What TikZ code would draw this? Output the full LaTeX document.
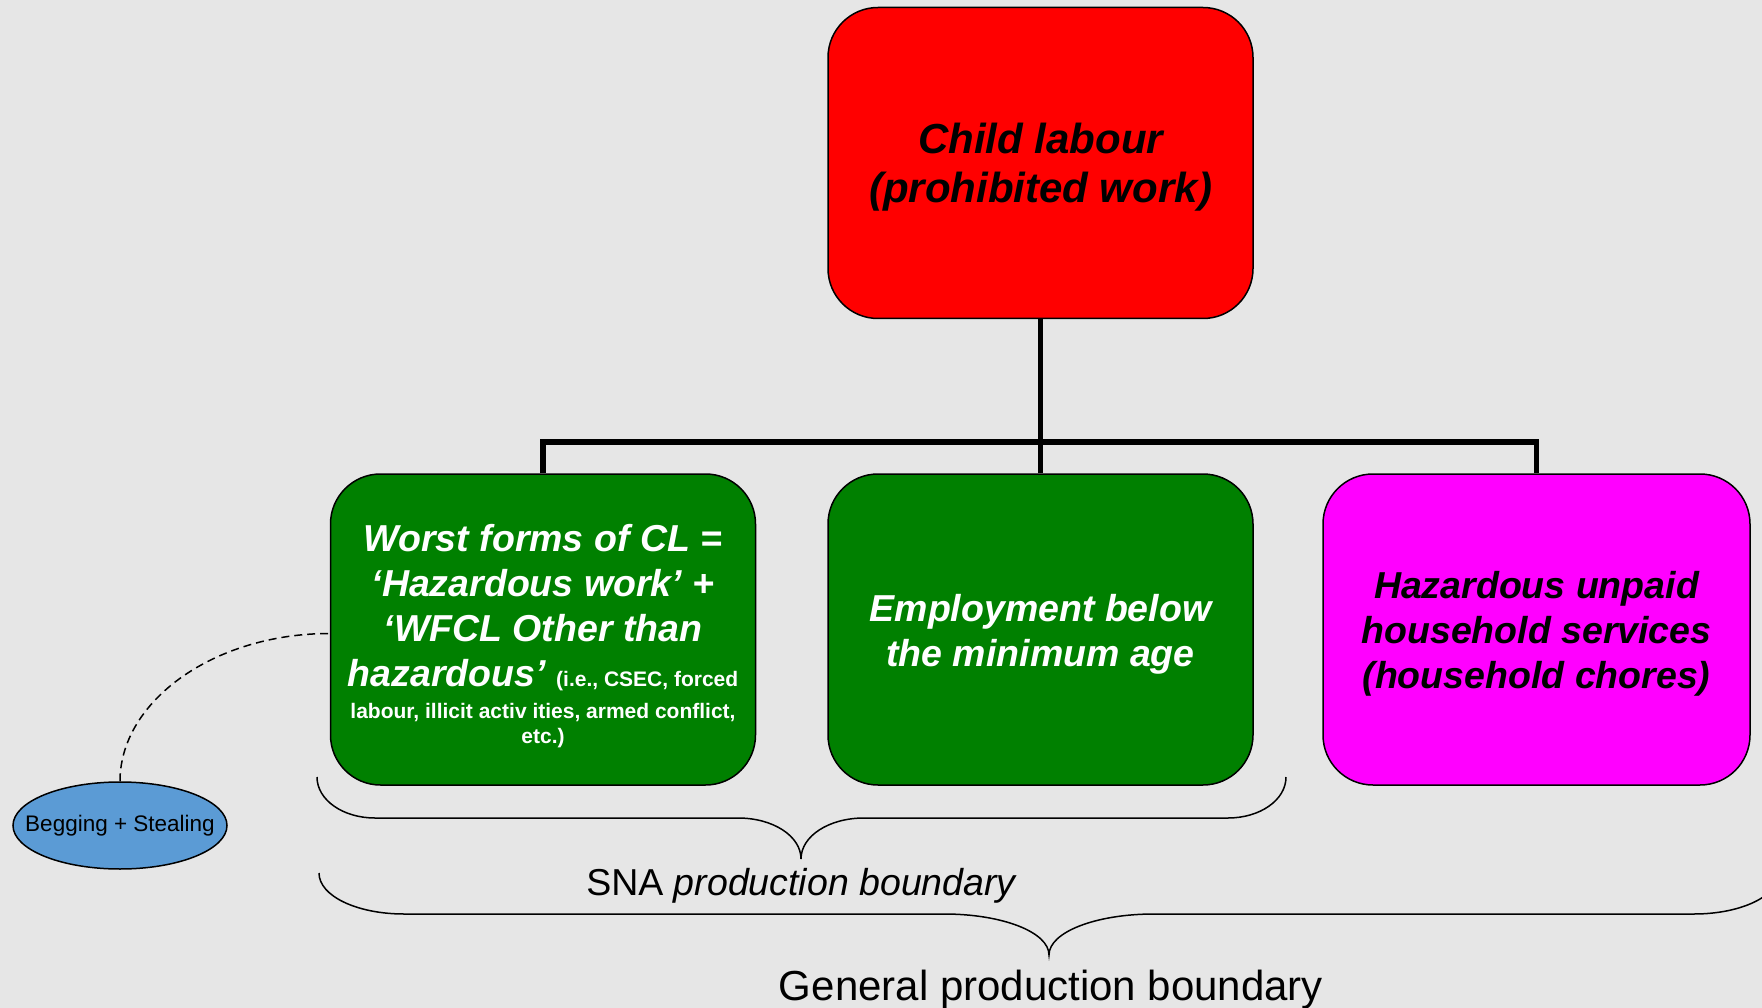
\documentclass[tikz,border=0pt]{standalone}
\usepackage{fontspec}
\setmainfont{Liberation Sans}
\usetikzlibrary{shapes.geometric}
\definecolor{bg}{RGB}{230,230,230}
\definecolor{clred}{RGB}{255,0,0}
\definecolor{clgreen}{RGB}{0,128,0}
\definecolor{clmagenta}{RGB}{255,0,255}
\definecolor{clblue}{RGB}{91,155,213}
\newcommand{\smallnote}{\fontsize{21}{25}\selectfont\upshape}
\begin{document}
\begin{tikzpicture}[x=1pt,y=-1pt,
  box/.style={draw=black, line width=1.5pt, rounded corners=50pt,
    minimum width=425pt, minimum height=311pt, inner sep=0pt},
  boxtext/.style={inner sep=0pt, align=center,
    font=\fontsize{37.5}{45}\selectfont\bfseries\itshape},
  link/.style={draw=black, line width=5.5pt},
  brace/.style={draw=black, line width=1.5pt},
  label/.style={anchor=base, inner sep=0pt},
]
% canvas
\fill[bg] (0,0) rectangle (1762,1008);
\useasboundingbox (0,0) rectangle (1762,1008);

% top box
\node[box, fill=clred] (cl) at (1040.5,163) {};
\node[boxtext, font=\fontsize{42}{49}\selectfont\bfseries\itshape]
  (clt) at ([yshift=-4pt]cl.center) {Child labour\\(prohibited work)};

% second row
\node[box, fill=clgreen] (wf) at (543,629.5) {};
\node[boxtext, text=white] (wft) at ([yshift=-7pt]wf.center)
  {Worst forms of CL =\\
   ‘Hazardous work’ +\\
   ‘WFCL Other than\\
   hazardous’ {\smallnote (i.e., CSEC, forced}\\[-13pt]
   {\smallnote labour, illicit activ ities, armed conflict,}\\[-20pt]
   {\smallnote etc.)}};
\node[box, fill=clgreen] (emp) at (1040.5,629.5) {};
\node[boxtext, text=white] (empt) at ([yshift=-5pt]emp.center)
  {Employment below\\the minimum age};
\node[box, fill=clmagenta, minimum width=427pt] (hh) at (1536.5,629.5) {};
\node[boxtext] (hht) at ([yshift=-4pt]hh.center)
  {Hazardous unpaid\\household services\\(household chores)};

% side ellipse
\node[ellipse, draw=black, line width=1.5pt, fill=clblue,
  minimum width=214pt, minimum height=87pt, inner sep=0pt,
  font=\fontsize{22.5}{26}\selectfont] (bs) at (120,825.5)
  {\makebox[120pt][c]{\raisebox{-2pt}{Begging + Stealing}}};

% tree connectors
\coordinate (busy) at (0,442);
\coordinate (bus) at (cl.south |- busy);
\draw[link] (cl.south) -- (bus);
\draw[link] (wf.north) |- (bus) -| (hh.north);
\draw[link] (emp.north) -- (bus);

% dashed link to the ellipse
\draw[dash pattern=on 8pt off 5pt, line width=1.5pt]
  (bs.north) .. controls +(0,-80) and +(-116,0) .. ([yshift=-4pt]wf.west);

% SNA brace
\coordinate (sL) at (317,777);
\coordinate (sR) at (1286,777);
\coordinate (sT) at (801,859);
\draw[brace] (sL) .. controls +(0,23) and +(-32,0) .. (375,818)
  -- (738,818) .. controls +(35,0) and +(0,-23) .. (sT)
  .. controls +(0,-23) and +(-35,0) .. (864,818)
  -- (1228,818) .. controls +(32,0) and +(0,23) .. (sR);
\node[label, font=\fontsize{37.5}{40}\selectfont] (sna) at (802,895)
  {SNA \textit{production boundary}};

% general brace
\coordinate (gL) at (319,873);
\coordinate (gR) at (1779,873);
\coordinate (gT) at (1049,955);
\draw[brace] (gL) .. controls +(0,23) and +(-47,0) .. (404,914)
  -- (944,914) .. controls +(58,0) and +(0,-23) .. (gT)
  .. controls +(0,-23) and +(-58,0) .. (1154,914)
  -- (1694,914) .. controls +(47,0) and +(0,23) .. (gR);
\node[label, font=\fontsize{42}{46}\selectfont] (gen) at (1051,1000)
  {General production boundary};
\end{tikzpicture}
\end{document}
